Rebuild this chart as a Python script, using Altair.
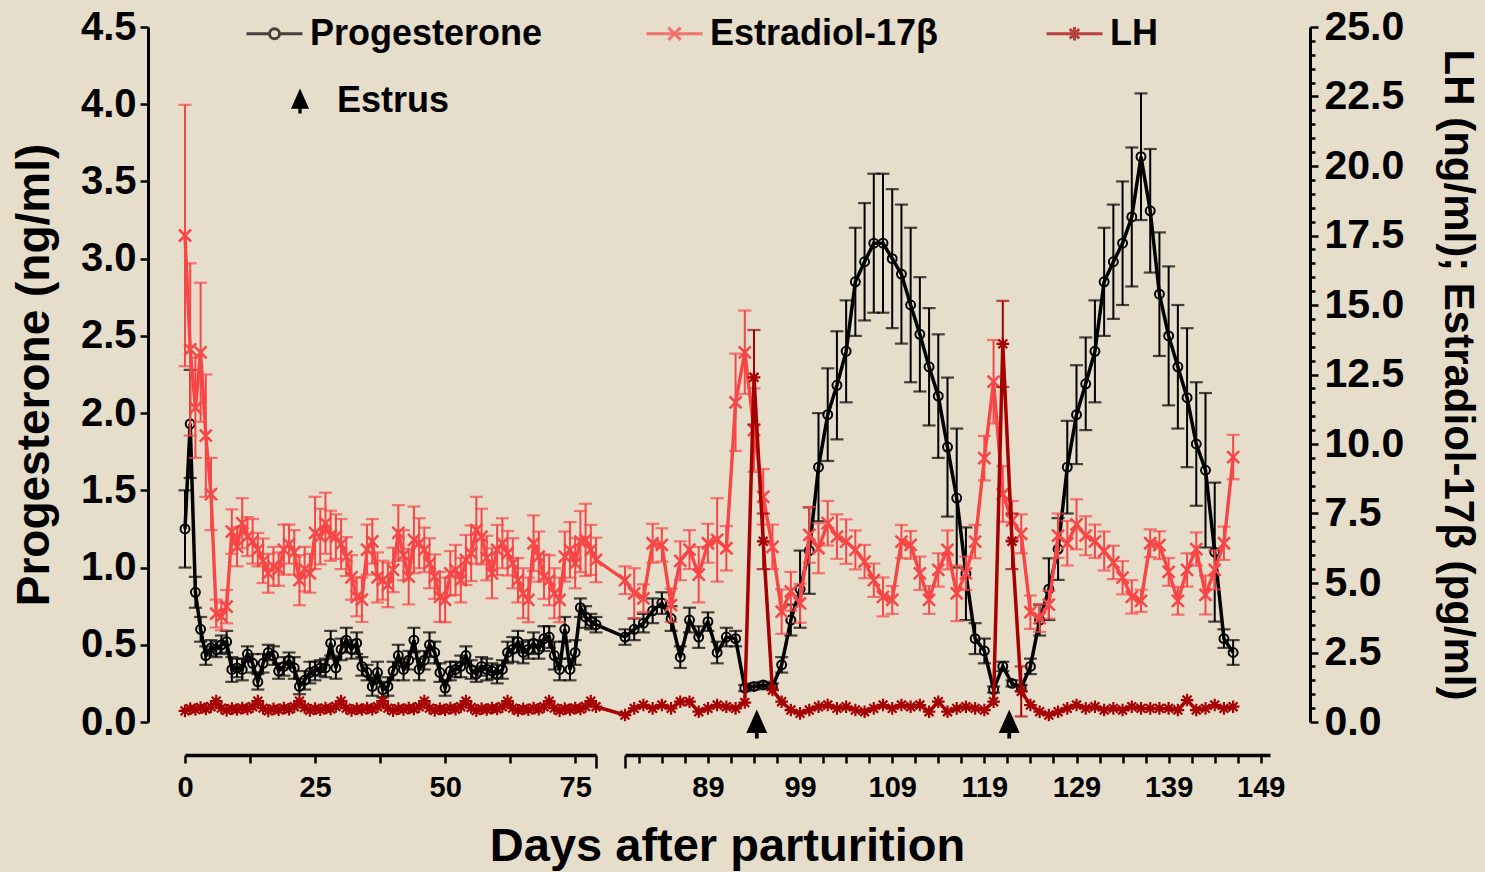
import altair as alt
import pandas as pd

# ---------------- data ----------------
days = list(range(0, 147))

progesterone = [
    1.25, 1.93, 0.84, 0.60, 0.43, 0.48, 0.47, 0.50, 0.52, 0.34,
    0.35, 0.34, 0.44, 0.38, 0.26, 0.38, 0.45, 0.43, 0.33, 0.36,
    0.40, 0.35, 0.23, 0.27, 0.32, 0.33, 0.35, 0.35, 0.51, 0.35,
    0.47, 0.53, 0.47, 0.51, 0.36, 0.32, 0.23, 0.32, 0.21, 0.23,
    0.33, 0.43, 0.34, 0.40, 0.53, 0.34, 0.40, 0.50, 0.45, 0.32,
    0.22, 0.33, 0.34, 0.36, 0.43, 0.34, 0.31, 0.36, 0.34, 0.33,
    0.31, 0.34, 0.45, 0.47, 0.52, 0.45, 0.47, 0.51, 0.47, 0.54,
    0.55, 0.43, 0.34, 0.60, 0.34, 0.45, 0.74, 0.68, 0.65, 0.63,
    0.55, 0.60, 0.64, 0.72, 0.77, 0.67, 0.42, 0.66, 0.55, 0.65,
    0.45, 0.55, 0.54, 0.22, 0.23, 0.24, 0.23, 0.37, 0.66, 0.86,
    1.11, 1.65, 1.99, 2.18, 2.40, 2.85, 2.98, 3.10, 3.10, 3.00,
    2.90, 2.70, 2.51, 2.30, 2.11, 1.78, 1.45, 0.96, 0.54, 0.46,
    0.21, 0.36, 0.25, 0.22, 0.36, 0.66, 0.86, 1.12, 1.65, 1.99,
    2.19, 2.40, 2.85, 2.98, 3.10, 3.27, 3.66, 3.31, 2.77, 2.50,
    2.30, 2.10, 1.80, 1.63, 1.10, 0.54, 0.45,
]
progesterone_sem = [
    0.25, 0.35, 0.10, 0.08, 0.06, 0.05, 0.05, 0.06, 0.07, 0.08,
    0.06, 0.07, 0.05, 0.06, 0.05, 0.06, 0.05, 0.06, 0.05, 0.06,
    0.05, 0.07, 0.05, 0.06, 0.07, 0.06, 0.05, 0.06, 0.08, 0.07,
    0.07, 0.08, 0.06, 0.07, 0.06, 0.05, 0.06, 0.07, 0.05, 0.06,
    0.06, 0.07, 0.07, 0.06, 0.08, 0.07, 0.06, 0.08, 0.07, 0.06,
    0.05, 0.06, 0.05, 0.07, 0.06, 0.06, 0.05, 0.06, 0.07, 0.05,
    0.06, 0.06, 0.07, 0.08, 0.07, 0.07, 0.06, 0.07, 0.06, 0.08,
    0.07, 0.09, 0.07, 0.08, 0.07, 0.08, 0.06, 0.07, 0.05, 0.05,
    0.05, 0.07, 0.06, 0.08, 0.07, 0.08, 0.07, 0.08, 0.07, 0.06,
    0.07, 0.06, 0.05, 0.02, 0.02, 0.02, 0.02, 0.05, 0.10, 0.25,
    0.28, 0.35, 0.30, 0.35, 0.33, 0.35, 0.38, 0.45, 0.45, 0.45,
    0.45, 0.50, 0.37, 0.38, 0.40, 0.45, 0.45, 0.30, 0.10, 0.08,
    0.02, 0.03, 0.02, 0.02, 0.05, 0.10, 0.20, 0.20, 0.30, 0.32,
    0.30, 0.33, 0.35, 0.37, 0.40, 0.45, 0.41, 0.40, 0.40, 0.45,
    0.40, 0.45, 0.40, 0.50, 0.45, 0.06, 0.08,
]
estradiol = [
    17.5, 13.4, 11.3, 13.3, 10.3, 8.2, 3.9, 3.8, 4.15, 6.85,
    6.3, 7.15, 6.67, 6.5, 6.2, 5.8, 5.35, 5.6, 5.5, 6.2,
    6.4, 6.1, 5.1, 5.5, 5.35, 6.8, 6.67, 7.15, 6.7, 6.67,
    6.4, 5.95, 5.2, 4.5, 4.4, 6.2, 6.5, 5.2, 5.1, 4.93,
    5.47, 6.8, 6.0, 5.23, 6.55, 6.43, 6.19, 5.71, 5.23, 4.5,
    4.39, 5.35, 5.47, 5.1, 5.83, 6.07, 6.9, 6.67, 5.9, 5.35,
    6.19, 6.43, 6.07, 5.71, 5.1, 4.63, 4.39, 6.43, 5.95, 5.23,
    5.1, 4.63, 4.39, 5.95, 6.19, 5.71, 6.49, 6.55, 6.19, 5.83,
    5.1, 4.63, 4.45, 6.43, 6.37, 4.2, 5.8, 6.2, 5.3, 6.43,
    6.55, 6.25, 11.5, 13.3, 10.5, 8.1, 6.3, 3.97, 4.7, 4.27,
    6.73, 6.25, 7.15, 6.67, 6.49, 6.19, 5.77, 5.1, 4.5, 4.39,
    6.49, 6.37, 5.35, 4.39, 5.47, 6.19, 4.63, 5.35, 6.49, 9.49,
    12.24, 8.2, 7.25, 6.77, 3.95, 3.74, 4.22, 6.7, 6.43, 7.11,
    6.7, 6.5, 6.15, 5.74, 5.19, 4.5, 4.36, 6.43, 6.36, 5.4,
    4.36, 5.47, 6.22, 4.57, 5.47, 6.43, 9.53,
]
estradiol_sem = [
    4.7, 3.1, 1.8, 2.5, 2.2, 1.3, 0.5, 0.5, 0.6, 0.8,
    0.7, 0.9, 0.7, 0.8, 0.6, 0.8, 0.7, 0.7, 0.6, 0.9,
    0.7, 0.8, 0.9, 0.8, 0.7, 1.3, 1.0, 1.1, 0.9, 0.8,
    0.9, 0.7, 0.8, 0.7, 0.8, 0.9, 0.8, 0.9, 0.7, 0.8,
    0.8, 1.0, 0.9, 1.0, 1.2, 0.9, 0.8, 0.9, 0.8, 0.9,
    0.8, 0.8, 0.9, 0.8, 0.9, 1.0, 1.2, 1.0, 0.8, 0.9,
    0.9, 0.9, 0.8, 0.9, 0.8, 0.9, 0.8, 1.0, 0.9, 0.8,
    0.9, 0.9, 0.8, 0.9, 1.0, 0.9, 1.1, 1.3, 0.9, 0.8,
    0.5, 0.9, 0.5, 0.7, 0.6, 0.6, 0.7, 0.7, 1.0, 0.7,
    1.5, 0.8, 1.75, 1.5, 1.5, 1.0, 0.8, 0.8, 0.7, 0.7,
    1.0, 0.9, 0.8, 0.8, 0.8, 0.7, 0.6, 0.6, 0.7, 0.5,
    0.6, 0.5, 0.6, 0.5, 0.6, 0.7, 1.0, 0.6, 0.6, 0.8,
    1.5, 1.0, 0.7, 0.7, 0.6, 0.5, 0.5, 0.8, 0.8, 0.9,
    0.7, 0.6, 0.7, 0.6, 0.6, 0.6, 0.4, 0.5, 0.5, 0.5,
    0.5, 0.6, 0.6, 0.7, 0.7, 0.6, 0.8,
]
lh = [
    0.40, 0.48, 0.45, 0.52, 0.47, 0.55, 0.75, 0.50, 0.42, 0.48,
    0.45, 0.50, 0.47, 0.55, 0.75, 0.50, 0.40, 0.47, 0.44, 0.50,
    0.46, 0.55, 0.75, 0.52, 0.42, 0.48, 0.44, 0.50, 0.47, 0.56,
    0.75, 0.50, 0.42, 0.47, 0.45, 0.50, 0.46, 0.55, 0.75, 0.50,
    0.41, 0.48, 0.45, 0.50, 0.47, 0.55, 0.75, 0.50, 0.42, 0.47,
    0.44, 0.50, 0.46, 0.55, 0.75, 0.52, 0.41, 0.48, 0.45, 0.50,
    0.47, 0.55, 0.75, 0.50, 0.42, 0.47, 0.44, 0.50, 0.46, 0.55,
    0.75, 0.50, 0.41, 0.48, 0.45, 0.50, 0.47, 0.56, 0.75, 0.55,
    0.25, 0.49, 0.61, 0.49, 0.61, 0.49, 0.73, 0.73, 0.37, 0.49,
    0.61, 0.55, 0.49, 0.70, 12.4, 6.5, 1.15, 0.73, 0.43, 0.31,
    0.43, 0.55, 0.61, 0.49, 0.55, 0.43, 0.37, 0.49, 0.61, 0.49,
    0.61, 0.55, 0.61, 0.37, 0.73, 0.37, 0.49, 0.55, 0.49, 0.43,
    0.73, 13.6, 6.5, 1.1, 0.61, 0.37, 0.25, 0.37, 0.49, 0.61,
    0.49, 0.55, 0.43, 0.49, 0.43, 0.55, 0.49, 0.49, 0.49, 0.49,
    0.43, 0.79, 0.43, 0.49, 0.61, 0.49, 0.55,
]
lh_sem_days = [94, 95, 121, 122, 123]
lh_sem = [1.7, 1.0, 1.55, 1.0, 0.9]
estrus_days = [94.3, 121.7]

series_names = ["Progesterone", "Estradiol-17\u03b2", "LH"]
left_ticks = [0.0, 0.5, 1.0, 1.5, 2.0, 2.5, 3.0, 3.5, 4.0, 4.5]
right_ticks = [i * 0.5 for i in range(51)]
x_ticks_part1 = [0, 12.5, 25, 37.5, 50, 62.5, 75, 79]
x_ticks_part2 = [80] + [81.5 + 2.5 * k for k in range(28)]

# ---------------- styling ----------------
BG = "#E6DDCB"
BLACK = "#000000"
RED = "#F84646"
DARK = "#A60000"
FONT = "Liberation Sans"
W, H = 1085, 695

X_DOMAIN = [0, 79, 80, 150]
X_RANGE = [0, 411, 440, 1085]

XPATH = "M-1,-1L1,1M-1,1L1,-1"
STAR = "M-1,0L1,0M0,-1L0,1M-0.7,-0.7L0.7,0.7M-0.7,0.7L0.7,-0.7"
ARROW = "M-0.13,1L0.13,1L0.13,0.62L0.72,0.62L0,-1L-0.72,0.62L-0.13,0.62Z"
LEG_PROG = "M-1,0L-0.18,0M0.18,0L1,0M0.18,0A0.18,0.18,0,1,1,-0.18,0A0.18,0.18,0,1,1,0.18,0"
LEG_E2 = "M-1,0L1,0M-0.22,-0.22L0.22,0.22M-0.22,0.22L0.22,-0.22"
LEG_LH = "M-1,0L1,0M0,-0.24L0,0.24M-0.17,-0.17L0.17,0.17M-0.17,0.17L0.17,-0.17"

df = pd.DataFrame({
    "day": days,
    "prog": progesterone, "prog_err": progesterone_sem,
    "e2": estradiol, "e2_err": estradiol_sem,
    "lh": lh,
})
lh_err_df = pd.DataFrame({
    "day": lh_sem_days,
    "lh": [lh[d] for d in lh_sem_days],
    "lh_err": lh_sem,
})
estrus_df = pd.DataFrame({"day": estrus_days, "event": ["Estrus"] * len(estrus_days)})
legend_df = pd.DataFrame({"series": series_names})

YL = alt.Scale(domain=[0, 4.5], nice=False, zero=False)
YR = alt.Scale(domain=[0, 25], nice=False, zero=False)


def xenc(field="day"):
    return alt.X(f"{field}:Q",
                 scale=alt.Scale(domain=X_DOMAIN, range=X_RANGE, nice=False, zero=False),
                 axis=None)


left_axis = alt.Axis(
    orient="left", offset=37, values=left_ticks, format=".1f",
    tickSize=8, tickWidth=2.5, domainWidth=3, domainColor=BLACK, tickColor=BLACK,
    labelFont=FONT, labelFontSize=40, labelFontWeight="bold", labelColor=BLACK,
    labelPadding=4, labelOverlap=False, labelFlush=False,
    title="Progesterone (ng/ml)", titleFont=FONT, titleFontSize=46,
    titleFontWeight="bold", titleColor=BLACK, titlePadding=22, grid=False,
)
right_axis = alt.Axis(
    orient="right", offset=40, values=right_ticks,
    labelExpr="datum.value % 2.5 == 0 ? format(datum.value, '.1f') : ''",
    tickSize={"condition": {"test": "datum.value % 2.5 == 0", "value": 8}, "value": 5},
    tickWidth=2.5, domainWidth=3, domainColor=BLACK, tickColor=BLACK,
    labelFont=FONT, labelFontSize=41, labelFontWeight="bold", labelColor=BLACK,
    labelPadding=6, labelOverlap=False, labelFlush=False,
    title="LH (ng/ml); Estradiol-17\u03b2 (pg/ml)", titleFont=FONT, titleFontSize=42,
    titleFontWeight="bold", titleColor=BLACK, titlePadding=32, grid=False,
)


def x_axis(values, expr, cap):
    return alt.Axis(
        orient="bottom", offset=33, values=values, labelExpr=expr,
        tickSize={"condition": {"test": f"datum.value == {cap}", "value": 13}, "value": 8},
        tickWidth=2.5, domainWidth=3.5, domainColor=BLACK, tickColor=BLACK,
        labelFont=FONT, labelFontSize=29, labelFontWeight="bold", labelColor=BLACK,
        labelPadding=10, labelOverlap=False, labelFlush=False, labelBound=False,
        title=None, grid=False,
    )


base = alt.Chart(df)


def series_layers(val, err, scale, color, shape, size, sw, line_w, axis, err_data=None):
    esrc = base if err_data is None else alt.Chart(err_data)
    bars = esrc.transform_calculate(lo=f"datum.{val} - datum.{err}", hi=f"datum.{val} + datum.{err}")
    rule = bars.mark_rule(color=color, strokeWidth=2).encode(
        x=xenc(), y=alt.Y("lo:Q", scale=scale, axis=None), y2="hi:Q")
    caps = bars.transform_fold(["lo", "hi"], as_=["k", "v"]).mark_tick(
        color=color, orient="horizontal", size=13, thickness=2.2).encode(
        x=xenc(), y=alt.Y("v:Q", scale=scale, axis=None))
    line = base.mark_line(color=color, strokeWidth=line_w).encode(
        x=xenc(), y=alt.Y(f"{val}:Q", scale=scale, axis=axis))
    pts = base.mark_point(shape=shape, size=size, filled=False, color=color,
                          strokeWidth=sw, opacity=1).encode(
        x=xenc(), y=alt.Y(f"{val}:Q", scale=scale, axis=None))
    return [rule, caps, line, pts]


prog_layers = series_layers("prog", "prog_err", YL, BLACK, "circle", 80, 2, 3.5, left_axis)
e2_layers = series_layers("e2", "e2_err", YR, RED, XPATH, 144, 2.5, 3.4, right_axis)
lh_layers = series_layers("lh", "lh_err", YR, DARK, STAR, 160, 2.2, 3.5, None,
                          err_data=lh_err_df)

estrus_layer = alt.Chart(estrus_df).mark_point(
    shape=ARROW, size=841, filled=True, opacity=1, strokeWidth=0).encode(
    x=xenc(), y=alt.value(H + 2),
    fill=alt.Fill("event:N", scale=alt.Scale(domain=["Estrus"], range=[BLACK]),
                  legend=alt.Legend(title=None, orient="none", legendX=97, legendY=56,
                                    symbolType=ARROW, symbolSize=625, symbolStrokeWidth=0,
                                    labelFont=FONT, labelFontSize=36, labelFontWeight="bold",
                                    labelColor=BLACK, labelOffset=19, labelLimit=400,
                                    padding=0)),
)

LEG = alt.Legend(title=None, orient="none", legendX=60, legendY=-23,
                 direction="horizontal", columns=3, gridAlign="all", columnPadding=97,
                 symbolSize=3136, symbolStrokeWidth=3, labelFont=FONT, labelFontSize=36,
                 labelFontWeight="bold", labelColor=BLACK, labelLimit=600, labelOffset=6,
                 padding=0)
legend_layer = alt.Chart(legend_df).transform_filter("false").mark_point(
    filled=False, size=3136, strokeWidth=3).encode(
    x=alt.value(0), y=alt.value(0),
    color=alt.Color("series:N", scale=alt.Scale(domain=series_names, range=[BLACK, RED, DARK]), legend=LEG),
    shape=alt.Shape("series:N", scale=alt.Scale(domain=series_names, range=[LEG_PROG, LEG_E2, LEG_LH]), legend=LEG),
)

axis1_layer = alt.Chart(pd.DataFrame({"t": x_ticks_part1})).mark_point(opacity=0).encode(
    x=alt.X("t:Q", scale=alt.Scale(domain=[0, 79], range=[0, 411], nice=False, zero=False),
            axis=x_axis(x_ticks_part1, "datum.value % 25 == 0 ? format(datum.value, 'd') : ''", 79)),
    y=alt.value(H),
)
axis2_layer = alt.Chart(pd.DataFrame({"t": x_ticks_part2})).mark_point(opacity=0).encode(
    x=alt.X("t:Q", scale=alt.Scale(domain=[80, 150], range=[440, 1085], nice=False, zero=False),
            axis=x_axis(x_ticks_part2, "(datum.value - 89) % 10 == 0 ? format(datum.value, 'd') : ''", 80)),
    y=alt.value(H),
)

chart = alt.layer(
    *prog_layers, *e2_layers, *lh_layers, estrus_layer, axis1_layer, axis2_layer, legend_layer
).resolve_scale(
    x="independent", y="independent"
).properties(
    width=W, height=H,
    autosize=alt.AutoSizeParams(type="none"),
    padding={"left": 185, "top": 27, "right": 215, "bottom": 150},
    title=alt.TitleParams("Days after parturition", orient="bottom", anchor="middle",
                          frame="group", fontSize=47, font=FONT, fontWeight="bold",
                          color=BLACK, offset=17),
).configure(
    background=BG
).configure_view(
    stroke=None
)

chart.save("out.html", embed_options={"renderer": "svg", "actions": False})
